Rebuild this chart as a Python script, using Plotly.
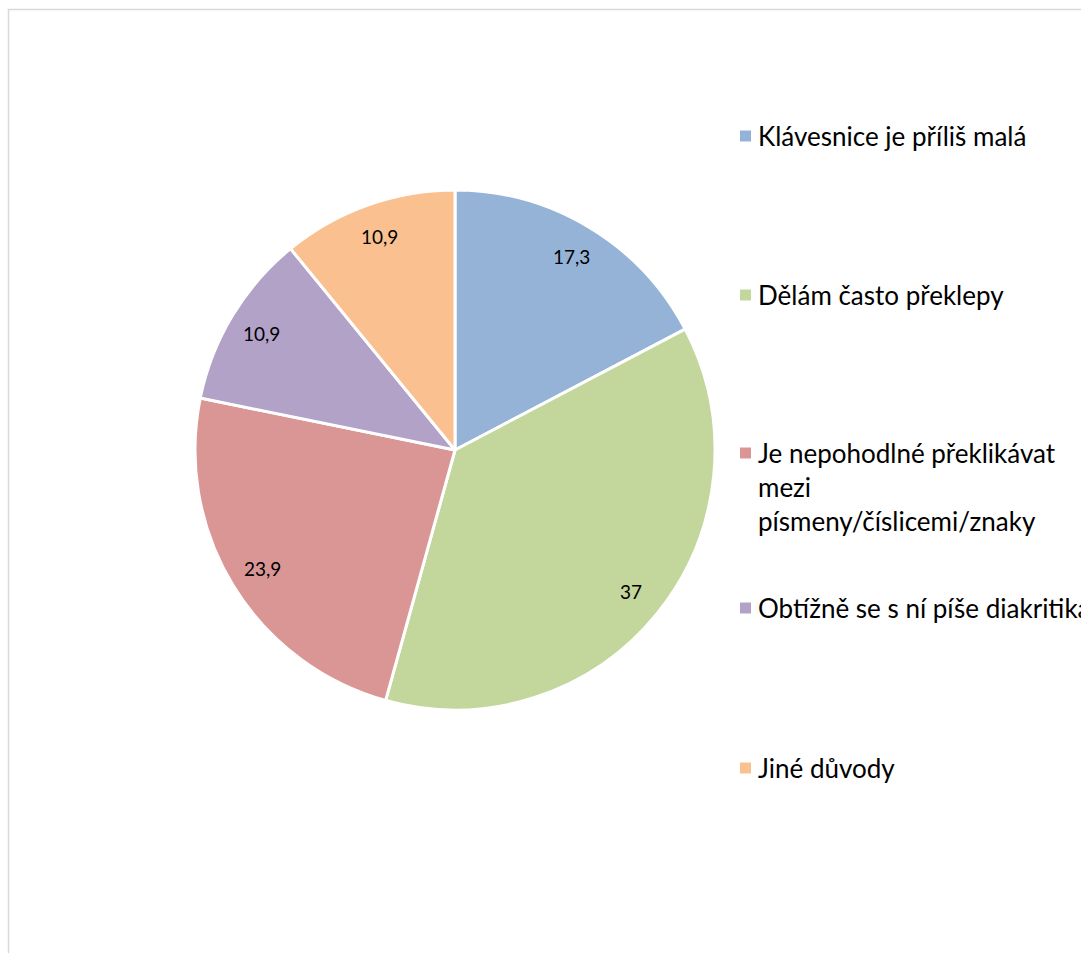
import math
import plotly.graph_objects as go

labels = ["Klávesnice je příliš malá", "Dělám často překlepy",
          "Je nepohodlné překlikávat mezi písmeny/číslicemi/znaky",
          "Obtížně se s ní píše diakritika", "Jiné důvody"]
legend_lines = [["Klávesnice je příliš malá"], ["Dělám často překlepy"],
                ["Je nepohodlné překlikávat", "mezi", "písmeny/číslicemi/znaky"],
                ["Obtížně se s ní píše diakritika"], ["Jiné důvody"]]
values = [17.3, 37, 23.9, 10.9, 10.9]
colors = ["#95B3D7", "#C3D69B", "#D99694", "#B3A2C7", "#FAC090"]

W, H = 1081, 953
FONT = "Lato"
cx, cy, R = 455, 450, 260  # pie center / radius in pixels (layout)

fig = go.Figure(go.Pie(
    labels=labels, values=values, sort=False, direction="clockwise", rotation=0,
    marker=dict(colors=colors, line=dict(color="white", width=3)),
    textinfo="none", hoverinfo="label+value", showlegend=False,
    domain=dict(x=[(cx - R) / W, (cx + R) / W], y=[(H - cy - R) / H, (H - cy + R) / H]),
))

annotations = []
shapes = []
# data labels placed along each slice's mid angle
total = sum(values)
cum = 0
for v in values:
    mid = (cum + v / 2) / total * 2 * math.pi
    cum += v
    r = 0.87 * R
    px = cx + r * math.sin(mid)
    py = cy - r * math.cos(mid)
    txt = f"{v:g}".replace(".", ",")
    annotations.append(dict(x=px / W, y=(H - py) / H, xref="paper", yref="paper",
                            text=txt, showarrow=False, xanchor="center", yanchor="middle",
                            font=dict(family=FONT, size=19, color="#000000")))

# legend
leg_y = [136, 295, 453, 608, 768]
line_h = 34
for lines, c, yc in zip(legend_lines, colors, leg_y):
    shapes.append(dict(type="rect", xref="paper", yref="paper",
                       x0=740 / W, x1=751 / W, y0=(H - yc - 5.5) / H, y1=(H - yc + 5.5) / H,
                       fillcolor=c, line=dict(width=0)))
    for i, ln in enumerate(lines):
        y = yc + i * line_h
        annotations.append(dict(x=756 / W, y=(H - y) / H, xref="paper", yref="paper",
                                text=ln, showarrow=False, xanchor="left", yanchor="middle",
                                font=dict(family=FONT, size=26, color="#000000")))

# chart area border
shapes.append(dict(type="rect", xref="paper", yref="paper",
                   x0=8.5 / W, x1=1.05, y0=-0.05, y1=(H - 9.5) / H,
                   line=dict(color="#D9D9D9", width=1.5), fillcolor="rgba(0,0,0,0)", layer="below"))

fig.update_layout(width=W, height=H, margin=dict(l=0, r=0, t=0, b=0),
                  paper_bgcolor="white", plot_bgcolor="white",
                  annotations=annotations, shapes=shapes, font=dict(family=FONT))
fig.write_html("out.html")
